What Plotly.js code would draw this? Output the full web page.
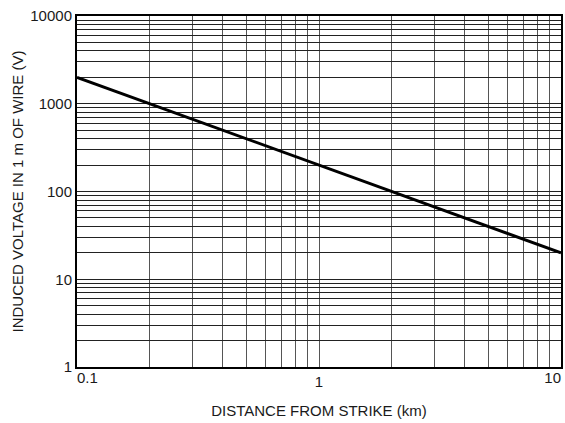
<!DOCTYPE html>
<html>
<head>
<meta charset="utf-8">
<script src="https://cdn.plot.ly/plotly-3.0.1.min.js"></script>
<style>html,body{margin:0;padding:0;background:#fff}#chart{width:565px;height:423px}</style>
</head>
<body>
<div id="chart"></div>
<script>
const distanceKm = [0.1, 10];
const inducedVoltage = [2000, 20];

const xGridVals = [0.1,0.2,0.3,0.4,0.5,0.6,0.7,0.8,0.9,1,2,3,4,5,6,7,8,9,10];
const xMidLabel = {vals: [1], text: ['1']};
const xLeftLabel = {vals: [0.1], text: ['0.1']};
const xRightLabel = {vals: [10], text: ['10']};
const yGridVals = [1,2,3,4,5,6,7,8,9,10,20,30,40,50,60,70,80,90,100,200,300,400,500,600,700,800,900,1000,2000,3000,4000,5000,6000,7000,8000,9000,10000];
const yTickText = yGridVals.map(v => [1,10,100,1000,10000].includes(v) ? String(v) : '');

const font = {family: "'Liberation Sans Narrow', 'Arial Narrow', 'Liberation Sans', Arial, sans-serif", size: 15, color: '#1a1a1a'};

const labelAxis = (vals, text, pos) => ({
  type: 'log', range: [-1, 1], overlaying: 'x', anchor: 'y', side: 'bottom',
  tickmode: 'array', tickvals: vals, ticktext: text, ticklabelposition: pos,
  showgrid: false, zeroline: false, showline: false, ticks: '', tickfont: font
});

const carrier = (xa) => ({
  x: distanceKm, y: inducedVoltage, type: 'scatter', mode: 'none',
  xaxis: xa, yaxis: 'y', hoverinfo: 'skip', showlegend: false
});

Plotly.newPlot('chart', [{
  x: distanceKm, y: inducedVoltage, type: 'scatter', mode: 'lines',
  line: {color: '#000', width: 3}, hoverinfo: 'skip'
}, carrier('x2'), carrier('x3')], {
  width: 565, height: 423,
  margin: {l: 77, r: 4, t: 16, b: 56},
  paper_bgcolor: '#fff', plot_bgcolor: '#fff',
  font: font,
  showlegend: false,
  xaxis: {
    type: 'log', range: [-1, 1], tickmode: 'array', tickvals: xGridVals,
    ticktext: xGridVals.map(v => xMidLabel.vals.includes(v) ? xMidLabel.text[xMidLabel.vals.indexOf(v)] : ''),
    showgrid: true, gridcolor: '#555', gridwidth: 1, zeroline: false,
    showline: true, linecolor: '#000', linewidth: 2, mirror: true, ticks: '',
    title: {text: 'DISTANCE FROM STRIKE (km)', font: font, standoff: 16}
  },
  xaxis2: labelAxis(xLeftLabel.vals, xLeftLabel.text, 'outside right'),
  xaxis3: labelAxis(xRightLabel.vals, xRightLabel.text, 'outside left'),
  yaxis: {
    type: 'log', range: [0, 4], tickmode: 'array', tickvals: yGridVals, ticktext: yTickText,
    showgrid: true, gridcolor: '#222', gridwidth: 1, zeroline: false,
    showline: true, linecolor: '#000', linewidth: 2, mirror: true, ticks: '',
    ticklabeloverflow: 'allow',
    title: {text: 'INDUCED VOLTAGE IN 1 m OF WIRE (V)', font: font, standoff: 3}
  }
}, {staticPlot: true});
</script>
</body>
</html>
